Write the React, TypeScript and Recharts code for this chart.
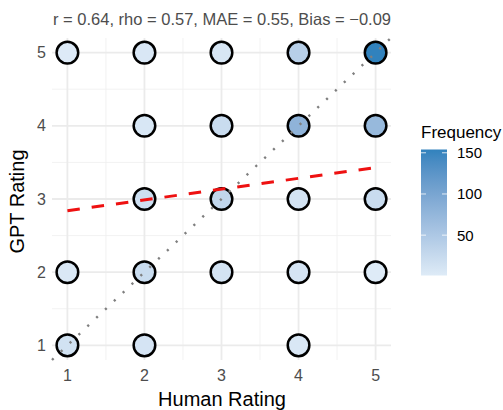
import React from 'react'
import { ScatterChart, Scatter, XAxis, YAxis, CartesianGrid } from 'recharts'

// human rating (x), gpt rating (y), count of items at that cell
const human = [1, 2, 3, 4, 5, 2, 3, 4, 5, 2, 3, 4, 5, 1, 2, 3, 4, 5, 1, 2, 4]
const gpt = [5, 5, 5, 5, 5, 4, 4, 4, 4, 3, 3, 3, 3, 2, 2, 2, 2, 2, 1, 1, 1]
const freq = [2, 6, 8, 40, 154, 7, 22, 80, 72, 18, 30, 12, 22, 5, 22, 12, 10, 1, 14, 10, 6]

const ticks = [1, 2, 3, 4, 5]
const minorTicks = [1.5, 2.5, 3.5, 4.5]
const domain = [0.8, 5.2]

// lm fit and y = x reference
const fitX = [1, 5]
const fitY = [2.84, 3.43]
const diagX = [0.8, 5.2]

const legendTicks = [50, 100, 150]
const statsText = 'r = 0.64, rho = 0.57, MAE = 0.55, Bias = \u22120.09'

const LOW = '#deebf7'
const HIGH = '#3182bd'

const points = human.map((h, i) => ({ x: h, y: gpt[i], freq: freq[i] }))
const fitData = fitX.map((x, i) => ({ x, y: fitY[i] }))
const diagData = diagX.map((x) => ({ x, y: x }))

const fMin = Math.min(...freq)
const fMax = Math.max(...freq)

// colour ramp in Lab, like ggplot's scale_fill_gradient
function hexToRgb(hex: string) {
  const n = parseInt(hex.slice(1), 16)
  return [(n >> 16) & 255, (n >> 8) & 255, n & 255]
}
function toLin(c: number) {
  c /= 255
  return c <= 0.04045 ? c / 12.92 : Math.pow((c + 0.055) / 1.055, 2.4)
}
function fromLin(c: number) {
  const v = c <= 0.0031308 ? 12.92 * c : 1.055 * Math.pow(c, 1 / 2.4) - 0.055
  return Math.max(0, Math.min(255, Math.round(v * 255)))
}
const Wn = [0.95047, 1, 1.08883]
function rgbToLab(rgb: number[]) {
  const [r, g, b] = rgb.map(toLin)
  const X = (0.4124 * r + 0.3576 * g + 0.1805 * b) / Wn[0]
  const Y = (0.2126 * r + 0.7152 * g + 0.0722 * b) / Wn[1]
  const Z = (0.0193 * r + 0.1192 * g + 0.9505 * b) / Wn[2]
  const f = (t: number) => (t > 0.008856 ? Math.cbrt(t) : 7.787 * t + 16 / 116)
  return [116 * f(Y) - 16, 500 * (f(X) - f(Y)), 200 * (f(Y) - f(Z))]
}
function labToHex(lab: number[]) {
  const fy = (lab[0] + 16) / 116
  const fx = fy + lab[1] / 500
  const fz = fy - lab[2] / 200
  const inv = (t: number) => (t * t * t > 0.008856 ? t * t * t : (t - 16 / 116) / 7.787)
  const X = inv(fx) * Wn[0]
  const Y = inv(fy) * Wn[1]
  const Z = inv(fz) * Wn[2]
  const r = 3.2406 * X - 1.5372 * Y - 0.4986 * Z
  const g = -0.9689 * X + 1.8758 * Y + 0.0415 * Z
  const b = 0.0557 * X - 0.204 * Y + 1.057 * Z
  return '#' + [r, g, b].map((c) => fromLin(c).toString(16).padStart(2, '0')).join('')
}
const labLow = rgbToLab(hexToRgb(LOW))
const labHigh = rgbToLab(hexToRgb(HIGH))
function fillFor(v: number) {
  const t = (v - fMin) / (fMax - fMin)
  return labToHex(labLow.map((l, i) => l + (labHigh[i] - l) * t))
}

const W = 503
const H = 410
const FONT = '"Liberation Sans", Arial, sans-serif'

function Dot(props: any) {
  const { cx, cy, payload } = props
  return <circle cx={cx} cy={cy} r={10.8} fill={fillFor(payload.freq)} stroke="#000" strokeWidth={2.5} />
}

const NoDot = () => <g />

// colour bar geometry
const barX = 421
const barW = 26
const barTop = 149.5
const barH = 126
const barY = (v: number) => barTop + ((fMax - v) / (fMax - fMin)) * barH

export default function App() {
  const stops = Array.from({ length: 11 }, (_, i) => fMin + ((fMax - fMin) * i) / 10)
  return (
    <div style={{ position: 'relative', width: W, height: H, fontFamily: FONT }}>
      <style>{'body{margin:0}'}</style>
      <ScatterChart width={W} height={H} margin={{ top: 38, right: 112, bottom: 10, left: 12 }}>
        <CartesianGrid stroke="#f0f0f0" strokeWidth={0.9} verticalValues={minorTicks} horizontalValues={minorTicks} />
        <CartesianGrid stroke="#ebebeb" strokeWidth={1.8} verticalValues={ticks} horizontalValues={ticks} />
        <XAxis
          type="number"
          dataKey="x"
          domain={domain}
          ticks={ticks}
          axisLine={false}
          tickLine={false}
          tickSize={6}
          tickMargin={4}
          height={40}
          tick={{ fill: '#4d4d4d', fontSize: 16, fontFamily: FONT }}
        />
        <YAxis
          type="number"
          dataKey="y"
          domain={domain}
          ticks={ticks}
          axisLine={false}
          tickLine={false}
          tickSize={6}
          tickMargin={0}
          width={40}
          tick={{ fill: '#4d4d4d', fontSize: 16, fontFamily: FONT }}
        />
        <Scatter data={points} shape={<Dot />} isAnimationActive={false} />
        <Scatter
          data={diagData}
          shape={NoDot}
          line={{ stroke: '#7f7f7f', strokeWidth: 2.4, strokeDasharray: '2.2 10' }}
          isAnimationActive={false}
        />
        <Scatter
          data={fitData}
          shape={NoDot}
          line={{ stroke: '#ee1111', strokeWidth: 3, strokeDasharray: '12.5 12' }}
          isAnimationActive={false}
        />
      </ScatterChart>
      <svg width={W} height={H} style={{ position: 'absolute', left: 0, top: 0, pointerEvents: 'none' }}>
        <defs>
          <linearGradient id="fbar" x1="0" y1="1" x2="0" y2="0">
            {stops.map((v, i) => (
              <stop key={i} offset={`${i * 10}%`} stopColor={fillFor(v)} />
            ))}
          </linearGradient>
        </defs>
        <text x={53} y={25} fontSize={16.5} fill="#4d4d4d" fontFamily={FONT}>
          {statsText}
        </text>
        <text x={222} y={406} fontSize={20} textAnchor="middle" fill="#000" fontFamily={FONT}>
          Human Rating
        </text>
        <text
          x={24}
          y={201.5}
          fontSize={20}
          textAnchor="middle"
          fill="#000"
          fontFamily={FONT}
          transform="rotate(-90 24 201.5)"
        >
          GPT Rating
        </text>
        <text x={421} y={137.5} fontSize={17} fill="#000" fontFamily={FONT}>
          Frequency
        </text>
        <rect x={barX} y={barTop} width={barW} height={barH} fill="url(#fbar)" />
        {legendTicks.map((v) => (
          <g key={v}>
            <line x1={barX} x2={barX + 5} y1={barY(v)} y2={barY(v)} stroke="#fff" strokeWidth={1} opacity={0.8} />
            <line x1={barX + barW - 5} x2={barX + barW} y1={barY(v)} y2={barY(v)} stroke="#fff" strokeWidth={1} opacity={0.8} />
            <text x={457} y={barY(v) + 5.5} fontSize={15} fill="#000" fontFamily={FONT}>
              {v}
            </text>
          </g>
        ))}
      </svg>
    </div>
  )
}
